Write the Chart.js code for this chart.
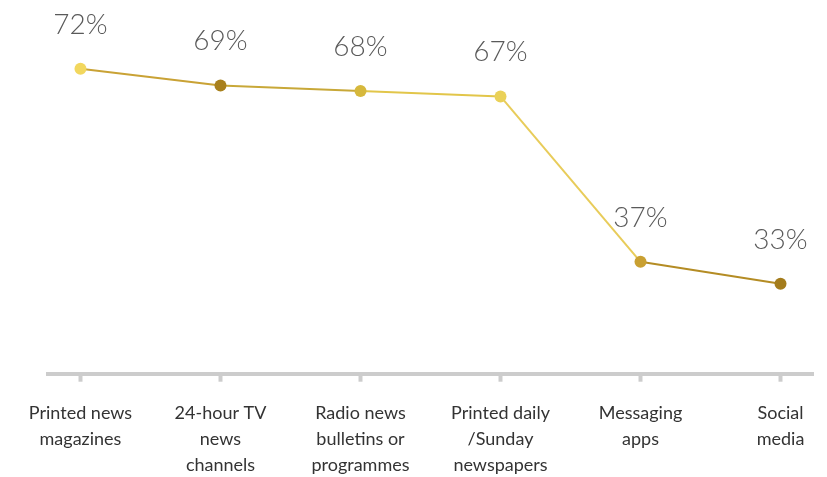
<!DOCTYPE html>
<html>
<head>
<meta charset="utf-8">
<script src="https://cdn.jsdelivr.net/npm/chart.js@4"></script>
<style>
  html, body { margin: 0; padding: 0; background: #fff; }
  #wrap { width: 827px; height: 477px; }
</style>
</head>
<body>
<div id="wrap"><canvas id="newsChart" width="827" height="477"></canvas></div>
<script>
// Dados do gráfico
const categories = [
  ['Printed news', 'magazines'],
  ['24-hour TV', 'news', 'channels'],
  ['Radio news', 'bulletins or', 'programmes'],
  ['Printed daily', '/Sunday', 'newspapers'],
  ['Messaging', 'apps'],
  ['Social', 'media']
];
const shares = [72, 69, 68, 67, 37, 33];
const pointColors = ['#f2d75e', '#a8801c', '#d6b83c', '#ead158', '#c9a032', '#a47c1c'];
const segmentColors = ['#c9a235', '#c8a838', '#e2c64a', '#e8cc5a', '#b48c24'];

// Rótulos de valor acima dos pontos
const valueLabels = {
  id: 'valueLabels',
  afterDatasetsDraw(chart) {
    const ctx = chart.ctx;
    const meta = chart.getDatasetMeta(0);
    ctx.save();
    ctx.font = '300 28px Lato';
    ctx.fillStyle = '#5a5a5a';
    ctx.textAlign = 'center';
    ctx.textBaseline = 'middle';
    meta.data.forEach((pt, i) => {
      ctx.fillText(shares[i] + '%', pt.x, pt.y - 44);
    });
    ctx.restore();
  }
};

const ctx = document.getElementById('newsChart').getContext('2d');
new Chart(ctx, {
  type: 'line',
  data: {
    datasets: [{
      data: shares.map((v, i) => ({ x: i, y: v })),
      borderWidth: 2,
      pointRadius: 6,
      pointHoverRadius: 6,
      pointBorderWidth: 0,
      pointBackgroundColor: pointColors,
      segment: {
        borderColor: (c) => segmentColors[c.p0DataIndex]
      },
      tension: 0
    }]
  },
  options: {
    responsive: false,
    animation: false,
    layout: { padding: { top: 2, left: 48, right: 14, bottom: -19 } },
    plugins: {
      legend: { display: false },
      tooltip: { enabled: false }
    },
    scales: {
      x: {
        type: 'linear',
        min: -0.232,
        max: 5.232,
        border: { display: true, color: '#cccccc', width: 4 },
        grid: {
          drawOnChartArea: false,
          drawTicks: true,
          tickLength: 8,
          tickWidth: 4,
          color: '#cccccc'
        },
        ticks: {
          stepSize: 1,
          includeBounds: false,
          autoSkip: false,
          maxRotation: 0,
          padding: 18,
          color: '#333333',
          font: { family: 'Lato', size: 18, lineHeight: 1.45 },
          callback: (v) => Number.isInteger(v) ? categories[v] : ''
        }
      },
      y: {
        display: false,
        min: 16.7,
        max: 83.4
      }
    }
  },
  plugins: [valueLabels]
});
</script>
</body>
</html>
